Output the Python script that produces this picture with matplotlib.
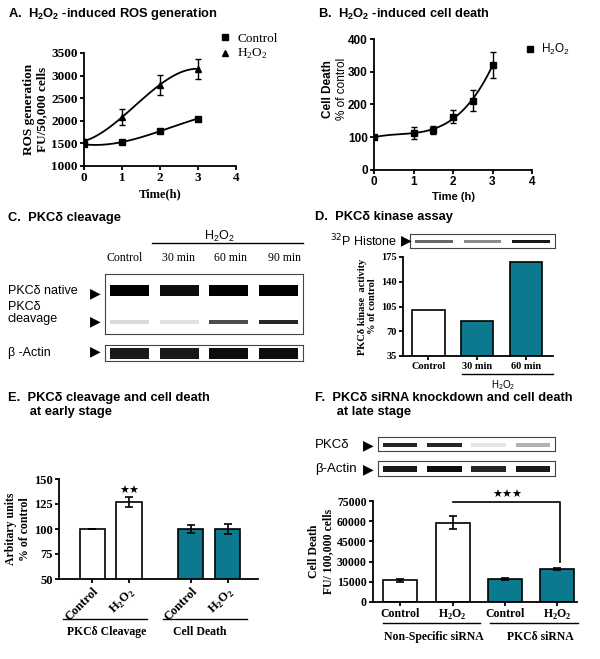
import numpy as np
import matplotlib
matplotlib.use("Agg")
import matplotlib.pyplot as plt

W, H = 600, 659
TEAL = "#0b7a8e"
SANS = "Liberation Sans"
SERIF = "Liberation Serif"
H2O2 = r"H$_\mathregular{2}$O$_\mathregular{2}$"

# A. ROS generation
ros_time = [0, 1, 2, 3]
ros_control = [1480, 1530, 1770, 2050]
ros_control_err = [20, 30, 40, 30]
ros_h2o2 = [1550, 2080, 2800, 3150]
ros_h2o2_err = [40, 180, 220, 220]

# B. cell death time course
death_time = [0, 1, 1.5, 2, 2.5, 3]
death_h2o2 = [100, 113, 122, 163, 212, 320]
death_err = [4, 17, 12, 20, 32, 40]

# C. blot band intensities (lanes: Control, 30, 60, 90 min)
c_lanes = ["Control", "30 min", "60 min", "90 min"]
c_native = [1.0, 0.95, 1.0, 1.0]
c_cleave = [0.15, 0.12, 0.7, 0.85]
c_actin = [0.9, 0.9, 0.95, 0.95]

# D. kinase assay
d_labels = ["Control", "30 min", "60 min"]
d_values = [100, 85, 168]
d_histone = [0.6, 0.45, 0.9]

# E. early stage
e_labels = ["Control", H2O2, "Control", H2O2]
e_values = [100, 127, 100, 100]
e_err = [0, 5, 4, 5]

# F. siRNA knockdown
f_labels = ["Control", H2O2, "Control", H2O2]
f_values = [16000, 59000, 17000, 24500]
f_err = [800, 5000, 1000, 1000]
f_pkc = [0.85, 0.85, 0.1, 0.3]
f_actin = [0.9, 0.95, 0.85, 0.9]

fig = plt.figure(figsize=(W / 100, H / 100), dpi=100)


def box(l, t, r, b):
    return fig.add_axes([l / W, 1 - b / H, (r - l) / W, (b - t) / H])


def ftext(x, y, s, **kw):
    fig.text(x / W, 1 - y / H, s, **kw)


def hline(x0, x1, y, lw=1.0):
    fig.add_artist(plt.Line2D([x0 / W, x1 / W], [1 - y / H, 1 - y / H], color="black", lw=lw))


def style(ax, family, size=8):
    for s in ["top", "right"]:
        ax.spines[s].set_visible(False)
    for s in ["left", "bottom"]:
        ax.spines[s].set_linewidth(1.3)
    ax.tick_params(width=1.3, length=3, pad=1.5, labelsize=size)
    for lab in ax.get_xticklabels() + ax.get_yticklabels():
        lab.set_family(family)
        lab.set_weight("bold")


def blot(l, t, r, b, rows):
    ax = box(l, t, r, b)
    n = len(rows[0][0])
    for vals, bottom, height in rows:
        bars = ax.bar(np.arange(n) + 0.5, [height] * n, bottom=bottom, width=0.78,
                      color="black", edgecolor="none")
        for p, v in zip(bars, vals):
            p.set_alpha(v)
    ax.set_xlim(0, n)
    ax.set_ylim(0, 1)
    ax.set_xticks([])
    ax.set_yticks([])
    for s in ax.spines.values():
        s.set_linewidth(0.8)
        s.set_color("#444444")
    return ax


def arrow(x, y):
    ftext(x, y, "\u25b6", family="DejaVu Sans", fontsize=10, va="center", ha="center")


# ---------- A ----------
ftext(8, 14, "A.  " + H2O2 + " -induced ROS generation", family=SANS, weight="bold", fontsize=9.3, va="center")
ax = box(84, 53, 236, 166)
xs = np.linspace(0, 3, 100)
ax.plot(xs, np.polyval(np.polyfit(ros_time, ros_control, 3), xs), color="black", lw=1.3)
ax.plot(xs, np.polyval(np.polyfit(ros_time, ros_h2o2, 3), xs), color="black", lw=1.3)
ax.errorbar(ros_time, ros_control, yerr=ros_control_err, fmt="none", ecolor="black", capsize=2.5, lw=1)
ax.errorbar(ros_time, ros_h2o2, yerr=ros_h2o2_err, fmt="none", ecolor="black", capsize=2.5, lw=1)
ax.plot(ros_time, ros_control, "s", color="black", ms=4, label="Control")
ax.plot(ros_time, ros_h2o2, "^", color="black", ms=4, label=H2O2)
ax.set_xlim(0, 4)
ax.set_ylim(1000, 3500)
ax.set_xticks([0, 1, 2, 3, 4])
ax.set_yticks(range(1000, 3501, 500))
style(ax, SERIF, 9.5)
ax.set_xlabel("Time(h)", family=SERIF, weight="bold", fontsize=9, labelpad=3)
ax.set_ylabel("ROS generation\nFU/50,000 cells", family=SERIF, weight="bold", fontsize=9.5, labelpad=2)
ax.legend(loc="upper left", bbox_to_anchor=(0.86, 1.24), frameon=False, handlelength=0.6,
          handletextpad=0.6, borderpad=0, labelspacing=0.2, prop={"family": SERIF, "size": 9.5})

# ---------- B ----------
ftext(318, 14, "B.  " + H2O2 + " -induced cell death", family=SANS, weight="bold", fontsize=9.3, va="center")
ax = box(374, 39, 532, 170)
ax.plot(xs, np.polyval(np.polyfit(death_time, death_h2o2, 3), xs), color="black", lw=1.3)
ax.errorbar(death_time, death_h2o2, yerr=death_err, fmt="none", ecolor="black", capsize=2.5, lw=1)
ax.plot(death_time, death_h2o2, "s", color="black", ms=4, label=H2O2)
ax.set_xlim(0, 4)
ax.set_ylim(0, 400)
ax.set_xticks([0, 1, 2, 3, 4])
ax.set_yticks([0, 100, 200, 300, 400])
style(ax, SANS, 8.5)
ax.set_xlabel("Time (h)", family=SANS, weight="bold", fontsize=8, labelpad=3)
ax.text(-0.29, 0.62, "Cell Death", transform=ax.transAxes, rotation=90, family=SANS, weight="bold",
        fontsize=8.5, ha="center", va="center")
ax.text(-0.2, 0.62, "% of control", transform=ax.transAxes, rotation=90, family=SANS,
        fontsize=8.5, ha="center", va="center")
ax.legend(loc="upper left", bbox_to_anchor=(0.93, 1.02), frameon=False, handlelength=0.6,
          handletextpad=0.6, borderpad=0, prop={"family": SANS, "size": 8.5})

# ---------- C ----------
ftext(8, 218, "C.  PKC\u03b4 cleavage", family=SANS, weight="bold", fontsize=9.3, va="center")
ftext(219, 236, H2O2, family=SANS, fontsize=9, ha="center", va="center")
hline(152, 303, 243)
for lab, xc in zip(c_lanes, [125, 178, 231, 284]):
    ftext(xc, 258, lab, family=SERIF, fontsize=8.5, ha="center", va="center")
blot(105, 274, 303, 334, [(c_native, 0.64, 0.17), (c_cleave, 0.16, 0.07)])
blot(105, 345, 303, 361, [(c_actin, 0.12, 0.72)])
ftext(8, 291, "PKC\u03b4 native", family=SANS, fontsize=9, va="center")
ftext(8, 313, "PKC\u03b4\ncleavage", family=SANS, fontsize=9, va="center", linespacing=1.1)
ftext(8, 353, "\u03b2 -Actin", family=SANS, fontsize=9, va="center")
arrow(95, 293)
arrow(95, 321)
arrow(95, 351)

# ---------- D ----------
ftext(315, 217, "D.  PKC\u03b4 kinase assay", family=SANS, weight="bold", fontsize=9.3, va="center")
ftext(330, 241, r"$^{32}$P Histone", family=SANS, fontsize=9, va="center")
arrow(406, 240)
blot(410, 234, 555, 248, [(d_histone, 0.38, 0.2)])
ax = box(403, 257, 553, 356)
ax.bar(range(3), d_values, width=0.66, color=["white", TEAL, TEAL], edgecolor="black", lw=1.2)
ax.set_xlim(-0.52, 2.55)
ax.set_ylim(35, 175)
ax.set_yticks([35, 70, 105, 140, 175])
ax.set_xticks(range(3))
ax.set_xticklabels(d_labels)
style(ax, SERIF, 7.5)
ax.set_ylabel("PKC\u03b4 kinase  activity\n% of control", family=SERIF, weight="bold", fontsize=7.5, labelpad=3)
hline(462, 553, 374)
ftext(503, 385, H2O2, family=SANS, fontsize=7, ha="center", va="center")

# ---------- E ----------
ftext(8, 405, "E.  PKC\u03b4 cleavage and cell death\n      at early stage", family=SANS, weight="bold",
      fontsize=9.3, va="center", linespacing=1.15)
ax = box(59, 479, 258, 579)
e_x = [0, 1, 2.68, 3.68]
ax.bar(e_x, e_values, width=0.68, color=["white", "white", TEAL, TEAL], edgecolor="black", lw=1.2,
       yerr=e_err, capsize=3, error_kw={"lw": 1.2, "capthick": 1.2})
ax.text(1, 133, "\u2605\u2605", family="DejaVu Sans", fontsize=8, ha="center", va="bottom")
ax.set_xlim(-0.9, 4.5)
ax.set_ylim(50, 150)
ax.set_yticks([50, 75, 100, 125, 150])
ax.set_xticks(e_x)
ax.set_xticklabels(e_labels, rotation=45, ha="right", rotation_mode="anchor")
style(ax, SERIF, 9)
ax.set_ylabel("Arbitary units\n% of control", family=SERIF, weight="bold", fontsize=8.5, labelpad=2)
hline(63, 147, 619)
hline(163, 247, 619)
ftext(107, 632, "PKC\u03b4 Cleavage", family=SERIF, weight="bold", fontsize=8.5, ha="center", va="center")
ftext(200, 632, "Cell Death", family=SERIF, weight="bold", fontsize=8.5, ha="center", va="center")

# ---------- F ----------
ftext(315, 405, "F.  PKC\u03b4 siRNA knockdown and cell death\n      at late stage", family=SANS, weight="bold",
      fontsize=9.3, va="center", linespacing=1.15)
ftext(315, 445, "PKC\u03b4", family=SANS, fontsize=9.5, va="center")
ftext(315, 469, "\u03b2-Actin", family=SANS, fontsize=9.5, va="center")
arrow(368, 445)
arrow(368, 469)
blot(378, 437, 555, 451, [(f_pkc, 0.3, 0.3)])
blot(378, 461, 555, 476, [(f_actin, 0.28, 0.38)])
ax = box(373, 501, 577, 602)
ax.bar(range(4), f_values, width=0.65, color=["white", "white", TEAL, TEAL], edgecolor="black", lw=1.2,
       yerr=f_err, capsize=3, error_kw={"lw": 1.2, "capthick": 1.2})
ax.plot([1, 3.05, 3.05], [74000, 74000, 30000], color="black", lw=1.2, clip_on=False)
ax.text(2.05, 75500, "\u2605\u2605\u2605", family="DejaVu Sans", fontsize=8, ha="center", va="bottom")
ax.set_xlim(-0.52, 3.38)
ax.set_ylim(0, 75000)
ax.set_yticks(range(0, 75001, 15000))
ax.set_xticks(range(4))
ax.set_xticklabels(f_labels)
style(ax, SERIF, 8.5)
ax.set_ylabel("Cell Death\nFU/ 100,000 cells", family=SERIF, weight="bold", fontsize=8.5, labelpad=2)
hline(383, 480, 623)
hline(490, 578, 623)
ftext(434, 637, "Non-Specific siRNA", family=SERIF, weight="bold", fontsize=8.5, ha="center", va="center")
ftext(540, 637, "PKC\u03b4 siRNA", family=SERIF, weight="bold", fontsize=8.5, ha="center", va="center")

fig.savefig("out.png", dpi=100, facecolor="white")
